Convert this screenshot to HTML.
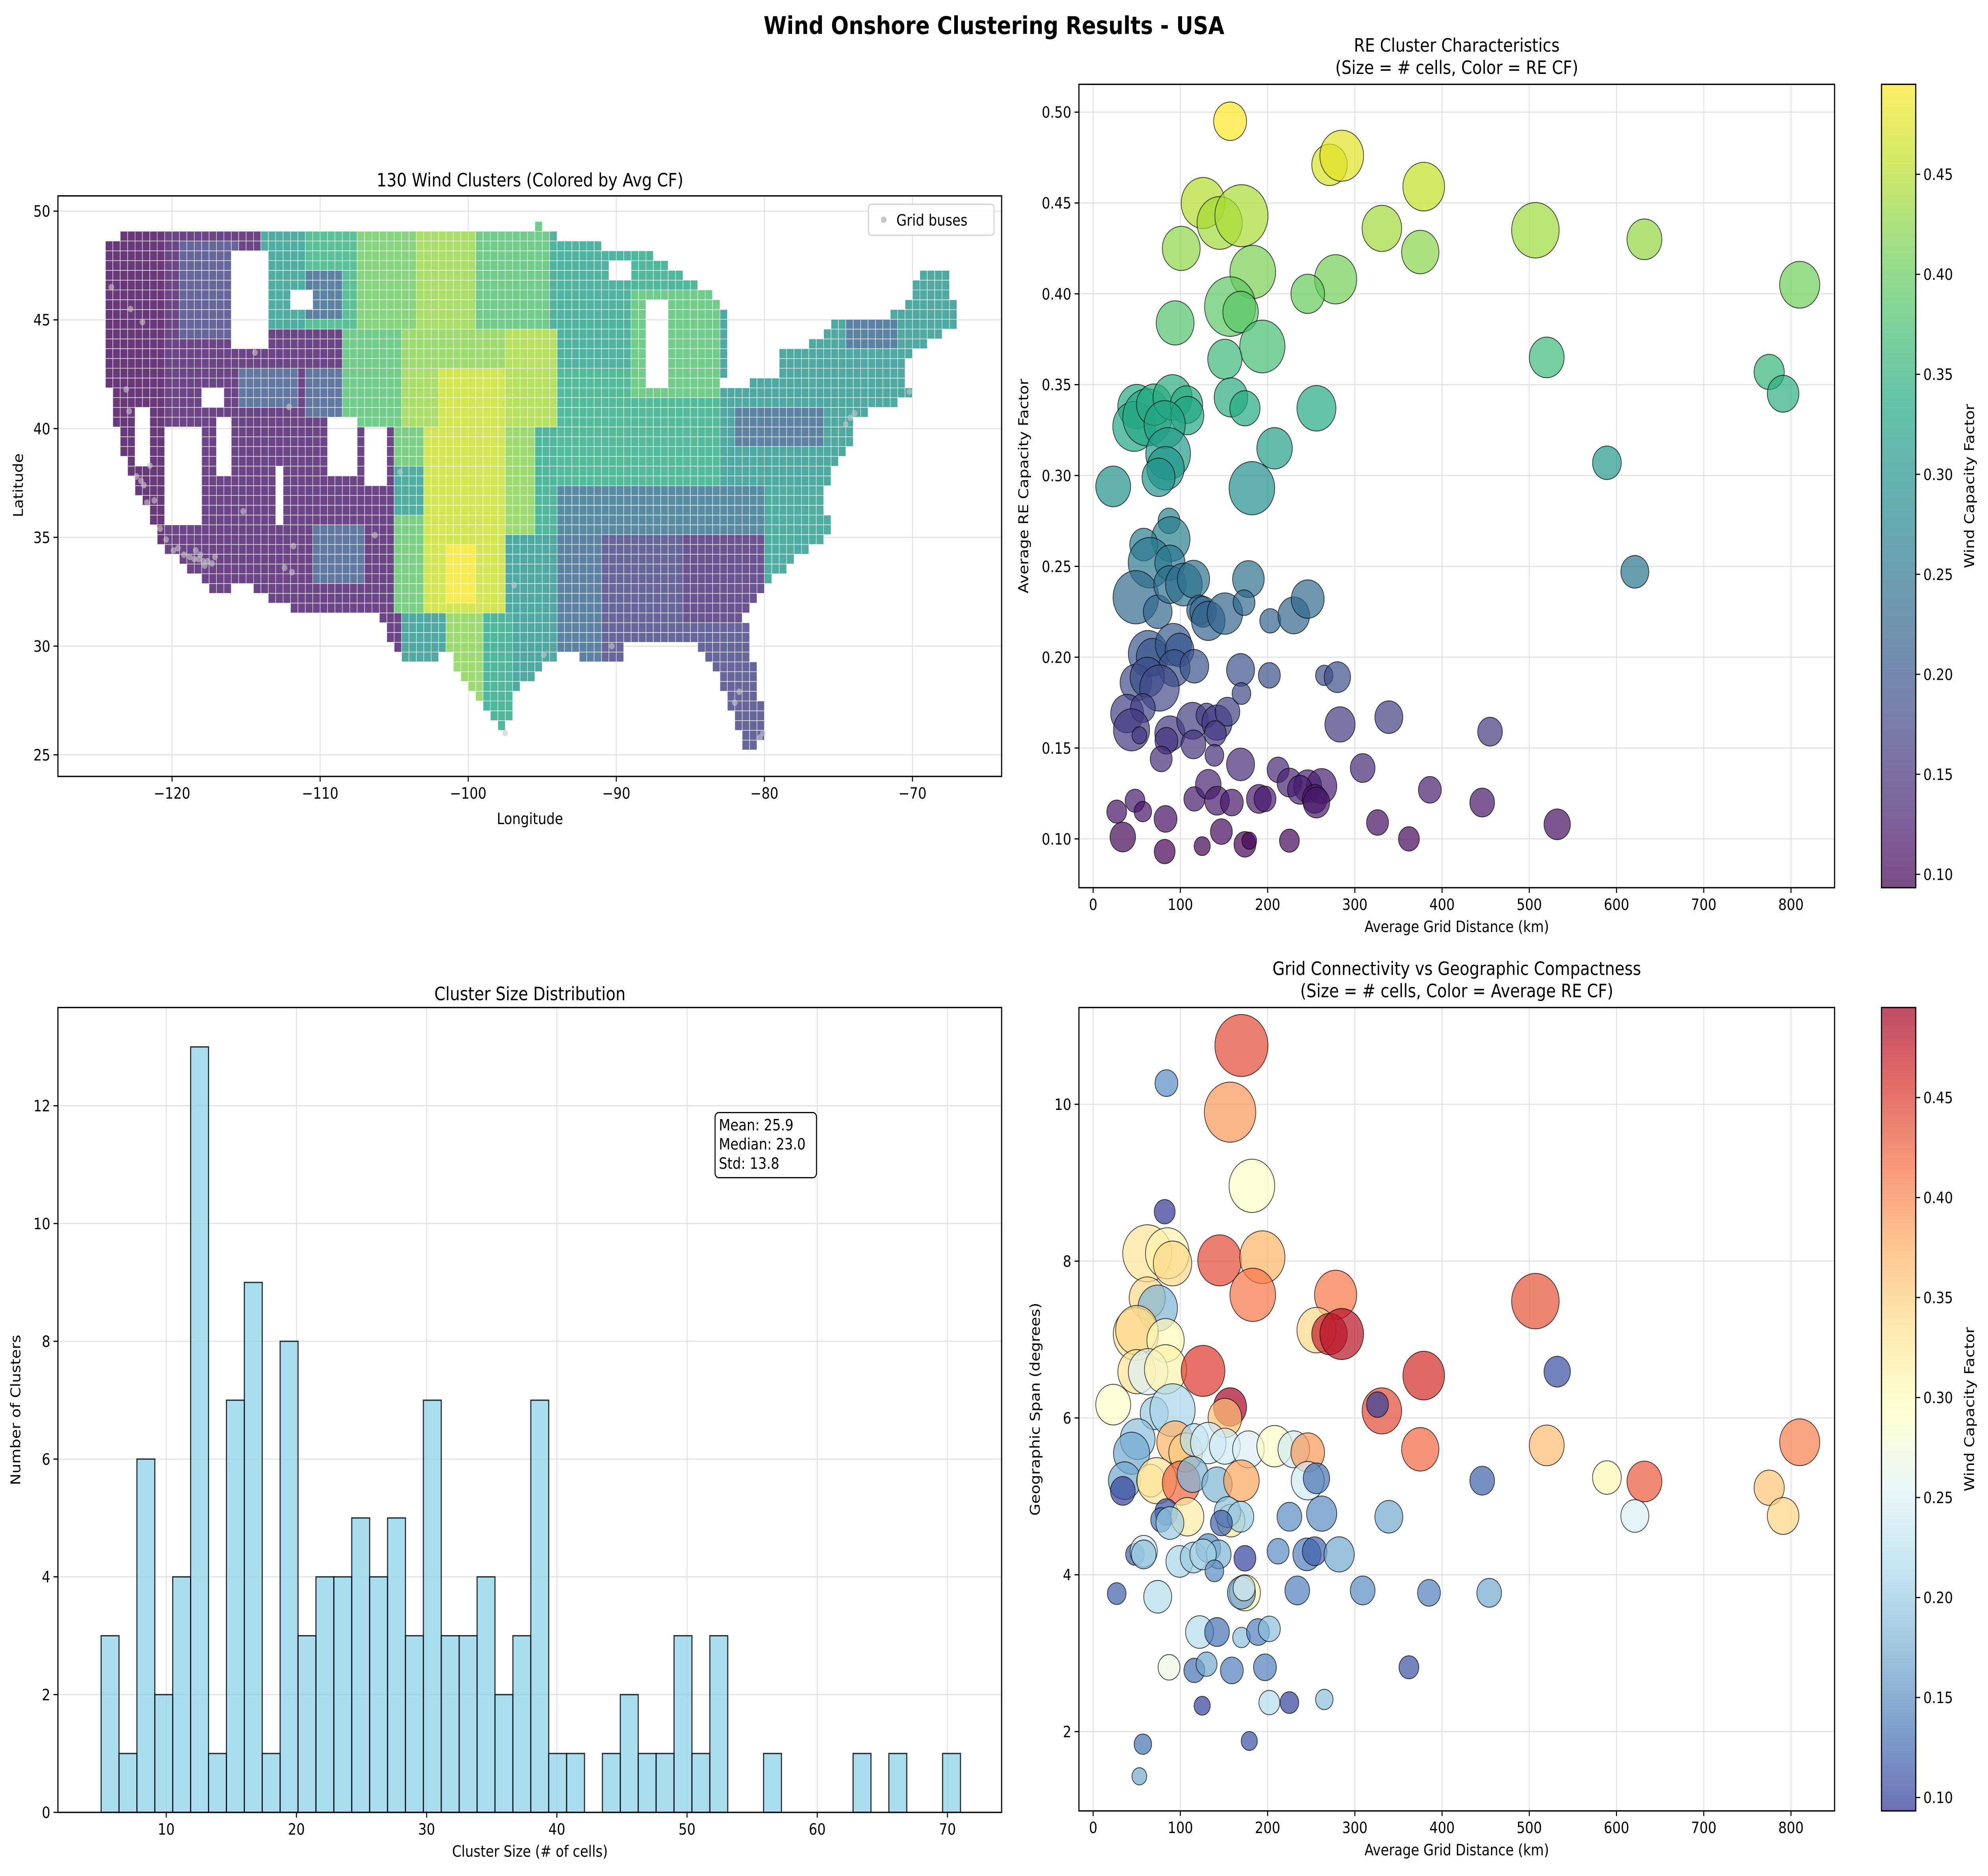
<!DOCTYPE html>
<html><head><meta charset="utf-8"><style>
html,body{margin:0;padding:0;background:#fff;width:100%;height:100%;overflow:hidden}
svg{display:block;position:absolute;left:0;top:0;width:100vw;height:100vh}
text{font-family:"DejaVu Sans","Liberation Sans",sans-serif;fill:#000}
</style></head><body>
<svg id="fig" xmlns="http://www.w3.org/2000/svg" viewBox="0 0 1568 1268" preserveAspectRatio="none" overflow="hidden">
<defs>
<linearGradient id="gViridis" x1="0" y1="1" x2="0" y2="0">
<stop offset="0" stop-color="#440154"/><stop offset="0.1" stop-color="#482475"/><stop offset="0.2" stop-color="#414487"/><stop offset="0.3" stop-color="#355f8d"/><stop offset="0.4" stop-color="#2a788e"/><stop offset="0.5" stop-color="#21918c"/><stop offset="0.6" stop-color="#22a884"/><stop offset="0.7" stop-color="#44bf70"/><stop offset="0.8" stop-color="#7ad151"/><stop offset="0.9" stop-color="#bddf26"/><stop offset="1" stop-color="#fde725"/>
</linearGradient>
<linearGradient id="gRdYlBu" x1="0" y1="1" x2="0" y2="0">
<stop offset="0" stop-color="#313695"/><stop offset="0.1" stop-color="#4575b4"/><stop offset="0.2" stop-color="#74add1"/><stop offset="0.3" stop-color="#abd9e9"/><stop offset="0.4" stop-color="#e0f3f8"/><stop offset="0.5" stop-color="#ffffbf"/><stop offset="0.6" stop-color="#fee090"/><stop offset="0.7" stop-color="#fdae61"/><stop offset="0.8" stop-color="#f46d43"/><stop offset="0.9" stop-color="#d73027"/><stop offset="1" stop-color="#a50026"/>
</linearGradient>
</defs>
<text x="784" y="23" text-anchor="middle" font-size="16.5" font-weight="bold">Wind Onshore Clustering Results - USA</text>
<g id="map"></g>
<g id="sc1"></g>
<g id="hist"></g>
<g id="sc2"></g>
</svg>
<script>
// ---------------- DATA ----------------
const dist1=[157,271,285,379,126,145,170,101,331,375,183,278,246,157,169,94,194,151,158,174,256,50,47,62,70,91,107,108,82,86,83,75,208,23,182,87,89,58,65,88,49,74,88,104,115,122,126,132,151,178,173,203,230,246,63,68,92,99,93,116,49,62,76,39,57,44,53,88,84,114,130,142,154,140,115,78,139,169,170,202,265,280,283,339,455,169,212,225,246,262,237,254,256,309,386,446,27,48,57,83,116,132,142,159,190,197,34,82,125,147,174,179,225,326,362,507,632,810,520,775,791,589,621,532];
const cf1=[.495,.471,.476,.459,.450,.439,.443,.425,.436,.423,.412,.408,.400,.393,.390,.384,.371,.364,.343,.337,.337,.338,.327,.332,.339,.343,.339,.333,.328,.312,.304,.299,.315,.294,.293,.275,.265,.262,.252,.252,.233,.225,.240,.240,.243,.226,.225,.220,.224,.243,.230,.220,.223,.232,.202,.200,.207,.204,.194,.195,.186,.189,.183,.169,.172,.160,.157,.158,.154,.165,.168,.164,.170,.158,.152,.144,.146,.193,.180,.190,.190,.189,.163,.167,.159,.141,.138,.131,.129,.129,.127,.122,.120,.139,.127,.120,.115,.121,.115,.111,.122,.130,.121,.120,.122,.122,.101,.093,.096,.104,.097,.099,.099,.109,.100,.435,.430,.405,.365,.357,.345,.307,.247,.108];
const cells1=[25,29,44,40,44,47,65,33,36,32,48,41,26,60,29,33,47,27,26,21,35,33,42,55,29,35,24,25,39,46,32,25,29,28,48,11,34,18,43,21,48,19,24,31,24,15,16,26,29,23,11,10,23,25,36,24,30,19,23,19,23,27,36,25,14,30,5,21,12,23,10,21,14,11,14,11,8,18,8,11,7,16,21,18,14,18,11,14,18,21,14,14,16,14,12,14,9,9,7,12,10,15,14,12,14,11,15,10,6,11,11,5,9,11,10,52,28,37,28,21,23,19,18,16];
const dist2=[170,84,157,182,82,62,85,91,145,194,183,278,62,74,49,50,83,256,271,285,379,331,326,375,446,339,23,50,63,83,126,157,151,70,91,51,44,94,106,116,132,151,178,208,230,246,36,34,66,73,101,114,142,170,246,256,262,225,84,78,108,158,154,169,147,88,48,58,58,99,115,132,144,126,174,212,245,254,282,139,27,74,174,170,173,234,309,385,454,122,142,170,189,202,87,116,130,159,197,362,125,202,225,265,57,179,53,507,532,520,589,632,621,810,775,791];
const span2=[10.75,10.27,9.90,8.96,8.63,8.10,8.10,7.97,8.01,8.05,7.57,7.57,7.53,7.40,7.07,7.12,6.99,7.12,7.07,7.07,6.54,6.09,6.17,5.60,5.20,4.74,6.17,6.59,6.59,6.62,6.60,6.14,6.00,6.06,6.10,5.73,5.55,5.69,5.56,5.72,5.68,5.64,5.60,5.64,5.60,5.56,5.20,5.07,5.20,5.20,5.17,5.28,5.15,5.20,5.20,5.23,4.78,4.74,4.80,4.70,4.74,4.69,4.80,4.74,4.66,4.66,4.26,4.30,4.26,4.17,4.22,4.34,4.26,4.26,4.21,4.30,4.26,4.30,4.26,4.05,3.76,3.72,3.77,3.77,3.83,3.80,3.80,3.77,3.77,3.27,3.27,3.20,3.27,3.31,2.82,2.78,2.86,2.78,2.82,2.82,2.33,2.37,2.37,2.41,1.84,1.88,1.43,7.49,6.59,5.65,5.24,5.19,4.75,5.69,5.11,4.75];
const cells2=[65,12,61,48,10,55,44,34,44,47,48,41,30,36,47,41,32,35,29,44,40,36,11,32,14,18,28,33,36,41,44,25,26,18,47,28,30,31,26,18,29,22,23,29,23,26,24,14,18,36,33,22,21,29,25,16,21,14,12,10,25,18,16,16,11,18,8,17,14,17,16,14,14,16,11,11,18,14,21,8,8,18,22,18,11,14,14,12,14,18,14,7,12,11,11,10,10,12,12,9,6,10,8,7,7,6,5,52,16,28,19,28,18,37,21,23];
const cf2=[.44,.15,.39,.29,.09,.33,.31,.34,.44,.37,.41,.41,.34,.18,.33,.34,.30,.34,.47,.48,.46,.44,.10,.42,.12,.17,.29,.33,.25,.31,.45,.49,.36,.20,.21,.19,.17,.37,.35,.22,.24,.24,.25,.29,.24,.39,.17,.10,.32,.33,.42,.18,.18,.38,.24,.13,.15,.15,.11,.13,.32,.32,.19,.20,.12,.20,.12,.24,.19,.21,.20,.15,.18,.21,.10,.15,.14,.12,.17,.15,.12,.22,.31,.16,.25,.14,.15,.14,.17,.22,.13,.19,.14,.19,.27,.13,.17,.14,.14,.11,.10,.22,.10,.19,.13,.11,.17,.435,.108,.365,.307,.430,.247,.405,.357,.345];
const histCounts=[3,1,6,2,4,13,1,7,9,1,8,3,4,4,5,4,5,3,7,3,3,4,2,3,7,1,1,0,1,2,1,1,3,1,3,0,0,1,0,0,0,0,1,0,1,0,0,1];
const histMin=5, histMax=71;
const histTicksX=[10,20,30,40,50,60,70];
const histTicksY=[0,2,4,6,8,10,12];
const scTicksX=[0,100,200,300,400,500,600,700,800];
const sc1TicksY=[0.10,0.15,0.20,0.25,0.30,0.35,0.40,0.45,0.50];
const sc2TicksY=[2,4,6,8,10];
const cbTicks=[0.10,0.15,0.20,0.25,0.30,0.35,0.40,0.45];
const mapTicksX=[-120,-110,-100,-90,-80,-70];
const mapTicksY=[25,30,35,40,45,50];
const cfMin=0.0933, cfMax=0.495;
const busLon=[-122.4,-122.1,-121.9,-121.5,-121.2,-120.8,-120.4,-119.9,-119.6,-119.2,-118.8,-118.5,-118.2,-117.9,-117.6,-117.3,-117.1,-118.1,-117.8,-118.4,-121.7,-122.9,-123.1,-124.1,-122.8,-122.0,-114.4,-112.4,-111.9,-112.1,-104.6,-106.3,-97.5,-82.0,-81.7,-80.1,-80.3,-74.2,-73.9,-70.2,-74.5,-111.8,-94.9,-90.3,-96.9,-115.2];
const busLat=[37.8,37.6,37.4,38.3,36.7,35.4,34.9,34.4,34.5,34.2,34.1,34.0,34.0,33.9,33.9,33.8,34.1,34.2,33.7,34.4,36.6,40.8,41.8,46.5,45.5,44.9,43.5,33.6,33.4,41.0,38.0,35.1,26.0,27.4,27.9,26.0,25.8,40.5,40.7,41.7,40.2,34.6,29.6,30.0,32.8,36.2];

// ------------- helpers -------------
const NS='http://www.w3.org/2000/svg';
function mk(parent,tag,attrs,txt){const e=document.createElementNS(NS,tag);for(const k in attrs)e.setAttribute(k,attrs[k]);if(txt!==undefined)e.textContent=txt;parent.appendChild(e);return e;}
function lerpStops(stops,t){t=Math.max(0,Math.min(1,t));const n=stops.length-1;const i=Math.min(n-1,Math.floor(t*n));const f=t*n-i;const a=stops[i],b=stops[i+1];const h=x=>[parseInt(x.substr(1,2),16),parseInt(x.substr(3,2),16),parseInt(x.substr(5,2),16)];const A=h(a),B=h(b);return 'rgb('+A.map((v,j)=>Math.round(v+(B[j]-v)*f)).join(',')+')';}
const VIR=['#440154','#482475','#414487','#355f8d','#2a788e','#21918c','#22a884','#44bf70','#7ad151','#bddf26','#fde725'];
const RYB=['#313695','#4575b4','#74add1','#abd9e9','#e0f3f8','#ffffbf','#fee090','#fdae61','#f46d43','#d73027','#a50026'];
const viridis=v=>lerpStops(VIR,(v-cfMin)/(cfMax-cfMin));
const rdylbu=v=>lerpStops(RYB,(v-cfMin)/(cfMax-cfMin));
const GRID='#e3e3e3';

// ============ MAP PANEL ============
(function(){
const g=document.getElementById('map');
const L=45.7,R=790,T=132.4,B=524.8;
const mx=lon=>135.7+(lon+120)*11.68, my=lat=>142.7+(50-lat)*14.70;
mk(g,'text',{x:418,y:126,'text-anchor':'middle','font-size':12.5,},'130 Wind Clusters (Colored by Avg CF)');
mapTicksX.forEach(v=>{const x=mx(v);const l=mk(g,'line',{x1:x,x2:x,y1:T,y2:B,stroke:GRID,'stroke-width':0.8});

mk(g,'line',{x1:x,x2:x,y1:B,y2:B+3.5,stroke:'#000','stroke-width':0.8});
const t=mk(g,'text',{x:x,y:B+15,'text-anchor':'middle','font-size':10.5},'\u2212'+Math.abs(v));
});
mapTicksY.forEach(v=>{const y=my(v);mk(g,'line',{x1:L,x2:R,y1:y,y2:y,stroke:GRID,'stroke-width':0.8});
mk(g,'line',{x1:L-3.5,x2:L,y1:y,y2:y,stroke:'#000','stroke-width':0.8});
const t=mk(g,'text',{x:L-6,y:y+3.8,'text-anchor':'end','font-size':10.5},String(v));
});
const us=[[-124.7,48.4],[-124.5,46],[-124.3,42],[-123.8,40],[-122.5,37.5],[-120.5,34.5],[-117.2,32.6],[-114.7,32.7],[-111,31.3],[-108.2,31.3],[-106.5,31.8],[-104.5,29.5],[-103,29],[-101.5,29.8],[-99.5,27.5],[-97.3,25.6],[-97.2,27.8],[-95,29],[-93.5,29.7],[-91,29.2],[-89.5,29.2],[-89.2,30.2],[-86,30.3],[-84,29.8],[-82.8,28],[-82,26.5],[-81,25],[-80.3,25.2],[-80.1,27],[-81,30],[-81.3,31.5],[-79,33.3],[-76,35],[-75.5,35.5],[-76,37],[-75,38.5],[-74,39.5],[-74,40.5],[-72,41],[-70,41.5],[-70.5,42.5],[-70.7,43],[-69,44],[-66.8,44.8],[-67.8,47.5],[-69.2,47.5],[-70.5,45.5],[-71.5,45.2],[-75,45.2],[-76.5,44],[-79,43.5],[-79,42.5],[-83,41.8],[-82.5,43],[-82.5,45.3],[-84.5,46.7],[-88,48.2],[-89.5,48.2],[-95,49],[-95.2,49.6],[-95.5,49],[-123.3,49],[-124.7,48.4]];
function inPoly(x,y,p){let c=false;for(let i=0,j=p.length-1;i<p.length;j=i++){const a=p[i],b=p[j];if(((a[1]>y)!=(b[1]>y))&&(x<(b[0]-a[0])*(y-a[1])/(b[1]-a[1])+a[0]))c=!c;}return c;}
const holes=[[-120.5,-118.2,35.5,40],[-116,-113.6,43.8,48],[-112,-110.7,45.5,46.5],[-109.5,-107.6,38,40.5],[-107,-105.6,37.5,40],[-122.6,-121.6,38.2,40.8],[-117.2,-115.8,38,40.5],[-113.2,-112.4,35.5,38.5],[-87.9,-86.4,41.8,45.8],[-90.4,-89,46.8,47.7],[-82.9,-81.2,41.8,42.4],[-118,-116.5,41,42]];
const zones=[[-125,-120.5,30,50,0.10],[-119.5,-115.5,44,48.5,0.17],[-115.5,-111.5,41,43,0.20],[-111,-108.4,45,47.5,0.22],[-110.5,-107,33,35.5,0.20],[-114,-110.8,44.6,50,0.31],[-110.8,-107.5,44.6,50,0.35],[-107.5,-103.5,44.6,50,0.40],[-103.5,-99.5,44.6,50,0.43],[-99.5,-94.5,44.6,50,0.38],[-113.5,-108.6,43,44.6,0.12],[-111,-108.6,40.5,43,0.20],[-108.6,-104.5,40.2,44.6,0.38],[-104.5,-97.5,42.9,44.6,0.42],[-97.5,-94,40.2,44.6,0.44],[-104.5,-102.2,40.2,42.9,0.43],[-102.2,-97.5,39,42.9,0.46],[-101.5,-99.5,32,34.5,0.49],[-103,-97.5,31.5,40.2,0.46],[-105,-103,36,38.5,0.31],[-105,-103,31.5,40.2,0.39],[-97.5,-95.5,35,40.2,0.42],[-95.5,-94,35,40.2,0.33],[-104.5,-101.5,26,31.5,0.30],[-101.5,-99,26,31.5,0.42],[-99,-97,25,31.5,0.33],[-97.5,-94,28,35,0.30],[-94.5,-89,43,50,0.32],[-89,-83,46.5,50,0.33],[-89,-83,41.5,46.5,0.38],[-94,-83,37.5,43,0.34],[-82,-76,39.3,41.2,0.22],[-74.3,-71,43.7,45,0.22],[-83,-66,37.5,50,0.30],[-80,-75,33,37.5,0.31],[-94,-76,35,37.5,0.24],[-94,-91,25,35,0.22],[-85.5,-80,31,37.5,0.14],[-91,-80,25,35,0.17],[-83.5,-79,24,31,0.17]];
function zoneCF(lo,la){for(const z of zones){if(lo>=z[0]&&lo<z[1]&&la>=z[2]&&la<z[3])return z[4];}return lo<-104.5?0.12:0.2;}
const cw=0.5*11.68, ch=0.45*14.70;
const cellsG=mk(g,'g',{});
for(let lo=-124.75;lo<=-66.9;lo+=0.5){for(let la=25.0;la<=49.6;la+=0.45){
 if(!inPoly(lo,la,us))continue;
 if(holes.some(h=>lo>=h[0]&&lo<h[1]&&la>=h[2]&&la<h[3]))continue;
 const r=mk(cellsG,'rect',{x:mx(lo)-cw/2,y:my(la)-ch/2,width:cw,height:ch,fill:viridis(zoneCF(lo,la)),'fill-opacity':0.8,stroke:'#fff','stroke-width':0.35});
 
}}
busLon.forEach((lo,i)=>{const c=mk(g,'circle',{cx:mx(lo),cy:my(busLat[i]),r:2.2,fill:'#c8c8c8','fill-opacity':0.6});
});
mk(g,'rect',{x:L,y:T,width:R-L,height:B-T,fill:'none',stroke:'#000','stroke-width':0.9,});
const lg=mk(g,'g',{});
mk(lg,'rect',{x:685,y:138,width:99,height:21,rx:2.5,fill:'#fff','fill-opacity':0.8,stroke:'#d0d0d0','stroke-width':0.8});
mk(lg,'circle',{cx:697,cy:148.5,r:2.2,fill:'#c8c8c8'});
mk(lg,'text',{x:707,y:152.5,'font-size':10.5,},'Grid buses');
mk(g,'text',{x:418,y:557,'text-anchor':'middle','font-size':10.5,},'Longitude');
mk(g,'text',{x:18,y:328,'text-anchor':'middle','font-size':10.5,transform:'rotate(-90 18 328)',},'Latitude');
})();

// ============ SCATTER PANELS ============
function scatterPanel(gid,T,B,yTicks,yMapF,yFmt,xs,ys,ns,cs,cmap,grad,title1,title2,ylab,names){
const g=document.getElementById(gid);
const L=851,R=1447;
const sx=km=>862.2+0.688*km;
mk(g,'text',{x:1149,y:T-22,'text-anchor':'middle','font-size':12.5,},title1);
mk(g,'text',{x:1149,y:T-7,'text-anchor':'middle','font-size':12.5,},title2);
scTicksX.forEach(v=>{const x=sx(v);mk(g,'line',{x1:x,x2:x,y1:T,y2:B,stroke:GRID,'stroke-width':0.8});
mk(g,'line',{x1:x,x2:x,y1:B,y2:B+3.5,stroke:'#000','stroke-width':0.8});
const t=mk(g,'text',{x:x,y:B+15,'text-anchor':'middle','font-size':10.5},String(v));
});
yTicks.forEach(v=>{const y=yMapF(v);mk(g,'line',{x1:L,x2:R,y1:y,y2:y,stroke:GRID,'stroke-width':0.8});
mk(g,'line',{x1:L-3.5,x2:L,y1:y,y2:y,stroke:'#000','stroke-width':0.8});
const t=mk(g,'text',{x:L-6,y:y+3.8,'text-anchor':'end','font-size':10.5},yFmt(v));
});
const pg=mk(g,'g',{});
xs.forEach((km,i)=>{const c=mk(pg,'circle',{cx:sx(km),cy:yMapF(ys[i]),r:2.6*Math.sqrt(ns[i]),fill:cmap(cs[i]),'fill-opacity':0.7,stroke:'#000','stroke-opacity':0.75,'stroke-width':0.55});
});
mk(g,'rect',{x:L,y:T,width:R-L,height:B-T,fill:'none',stroke:'#000','stroke-width':0.9,});
mk(g,'text',{x:1149,y:B+30,'text-anchor':'middle','font-size':10.5,},'Average Grid Distance (km)');
const yl=(T+B)/2;const lx=names==='re-scatter'?811:820;
mk(g,'text',{x:lx,y:yl,'text-anchor':'middle','font-size':10.5,transform:'rotate(-90 '+lx+' '+yl+')',},ylab);
const cbL=1484,cbW=27;
mk(g,'rect',{x:cbL,y:T,width:cbW,height:B-T,fill:'url(#'+grad+')','fill-opacity':0.7,});
mk(g,'rect',{x:cbL,y:T,width:cbW,height:B-T,fill:'none',stroke:'#000','stroke-width':0.9});
cbTicks.forEach(v=>{const y=B-(v-cfMin)/(cfMax-cfMin)*(B-T);
mk(g,'line',{x1:cbL+cbW,x2:cbL+cbW+3.5,y1:y,y2:y,stroke:'#000','stroke-width':0.8});
const t=mk(g,'text',{x:cbL+cbW+6,y:y+3.8,'font-size':10.5},v.toFixed(2));
});
mk(g,'text',{x:1557,y:yl,'text-anchor':'middle','font-size':10.5,transform:'rotate(-90 1557 '+yl+')',},'Wind Capacity Factor');
}
scatterPanel('sc1',57,600,sc1TicksY,v=>75.8+(0.5-v)*1228,v=>v.toFixed(2),dist1,cf1,cells1,cf1,viridis,'gViridis','RE Cluster Characteristics','(Size = # cells, Color = RE CF)','Average RE Capacity Factor','re-scatter');
scatterPanel('sc2',681,1224,sc2TicksY,v=>746.4+(10-v)*53.0,v=>String(v),dist2,span2,cells2,cf2,rdylbu,'gRdYlBu','Grid Connectivity vs Geographic Compactness','(Size = # cells, Color = Average RE CF)','Geographic Span (degrees)','span-scatter');

// ============ HISTOGRAM ============
(function(){
const g=document.getElementById('hist');
const L=45.7,R=790,T=681,B=1225;
const hx=v=>131.1+(v-10)*10.27, hy=c=>B-c*39.8;
mk(g,'text',{x:418,y:676,'text-anchor':'middle','font-size':12.5,},'Cluster Size Distribution');
histTicksX.forEach(v=>{const x=hx(v);mk(g,'line',{x1:x,x2:x,y1:T,y2:B,stroke:GRID,'stroke-width':0.8});
mk(g,'line',{x1:x,x2:x,y1:B,y2:B+3.5,stroke:'#000','stroke-width':0.8});
const t=mk(g,'text',{x:x,y:B+15,'text-anchor':'middle','font-size':10.5},String(v));
});
histTicksY.forEach(v=>{const y=hy(v);mk(g,'line',{x1:L,x2:R,y1:y,y2:y,stroke:GRID,'stroke-width':0.8});
mk(g,'line',{x1:L-3.5,x2:L,y1:y,y2:y,stroke:'#000','stroke-width':0.8});
const t=mk(g,'text',{x:L-6,y:y+3.8,'text-anchor':'end','font-size':10.5},String(v));
});
const bw=(histMax-histMin)/histCounts.length;
const bg=mk(g,'g',{});
histCounts.forEach((c,i)=>{if(c<=0)return;const x0=hx(histMin+i*bw),x1=hx(histMin+(i+1)*bw);
const r=mk(bg,'rect',{x:x0,y:hy(c),width:x1-x0,height:B-hy(c),fill:'#87ceeb','fill-opacity':0.7,stroke:'#000','stroke-opacity':0.8,'stroke-width':0.9});
});
mk(g,'rect',{x:L,y:T,width:R-L,height:B-T,fill:'none',stroke:'#000','stroke-width':0.9,});
const sb=mk(g,'g',{});
mk(sb,'rect',{x:564,y:752,width:80,height:44,rx:3,fill:'#fff','fill-opacity':0.8,stroke:'#000','stroke-width':0.8});
mk(sb,'text',{x:567,y:764,'font-size':10.5},'Mean: 25.9');
mk(sb,'text',{x:567,y:777,'font-size':10.5},'Median: 23.0');
mk(sb,'text',{x:567,y:790,'font-size':10.5},'Std: 13.8');
mk(g,'text',{x:418,y:1255,'text-anchor':'middle','font-size':10.5,},'Cluster Size (# of cells)');
mk(g,'text',{x:16,y:953,'text-anchor':'middle','font-size':10.5,transform:'rotate(-90 16 953)',},'Number of Clusters');
})();
</script>
</body></html>
